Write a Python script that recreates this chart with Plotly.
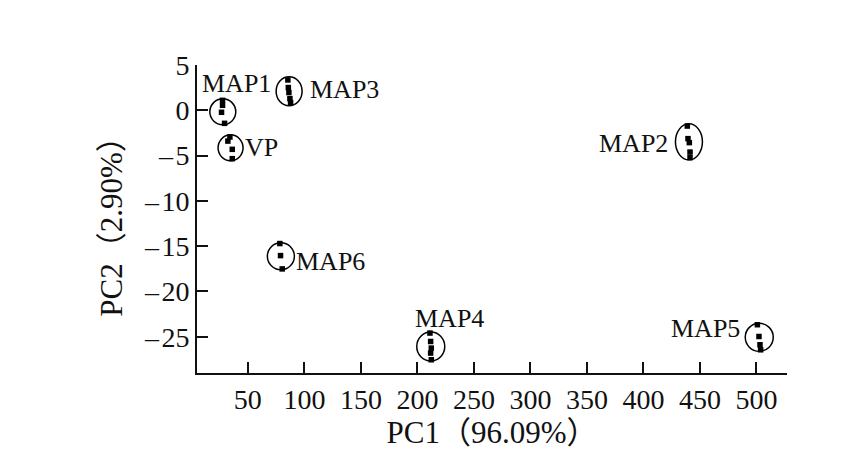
import plotly.graph_objects as go

# ---- data ----
groups = ["MAP1", "MAP3", "VP", "MAP2", "MAP6", "MAP4", "MAP5"]
pc1_points = [
    [27.6, 27.6, 26.7, 29.4],
    [85.4, 85.8, 86.3, 87.2, 87.8],
    [34.1, 32.3, 36.2, 36.2],
    [438.8, 439.4, 440.6, 441.2, 441.2],
    [78.3, 78.9, 80.4],
    [211.1, 211.7, 212.3, 211.7, 212.3],
    [500.8, 502.2, 503.1, 503.7],
]
pc2_points = [
    [1.10, 0.55, -0.22, -1.44],
    [3.35, 2.51, 1.96, 1.29, 0.85],
    [-2.95, -3.40, -4.31, -5.34],
    [-1.74, -3.13, -3.57, -4.61, -5.23],
    [-14.71, -16.04, -17.51],
    [-24.59, -25.52, -26.25, -26.80, -27.54],
    [-23.67, -24.97, -25.88, -26.44],
]
x_tick_vals = [50, 100, 150, 200, 250, 300, 350, 400, 450, 500]
y_tick_vals = [5, 0, -5, -10, -15, -20, -25]
y_tick_text = ["5", "0", "\u2013\u200a5", "\u2013\u200a10", "\u2013\u200a15", "\u2013\u200a20", "\u2013\u200a25"]
x_title = "PC1（96.09%）"
y_title = "PC2（2.90%）"

# ---- styles (pixel) ----
ellipse_r = {"MAP1": (13, 13), "MAP3": (13, 14.5), "VP": (12.5, 13), "MAP2": (13.5, 18),
             "MAP6": (13.5, 13.5), "MAP4": (14, 14.5), "MAP5": (14, 14)}
label_shift = {"MAP1": (14, 28), "MAP3": (55, 2), "VP": (31, 0), "MAP2": (-55, -2),
               "MAP6": (50, -5), "MAP4": (19, 28), "MAP5": (-54, 9)}

FONT = "Liberation Serif, Times New Roman, Noto Sans CJK SC, serif"
INK = "#111"

fig = go.Figure()
shapes = []
annotations = []
for g, xs, ys in zip(groups, pc1_points, pc2_points):
    fig.add_trace(go.Scatter(
        x=xs, y=ys, mode="markers", name=g, showlegend=False,
        marker=dict(symbol="square", size=5.5, color="black"),
    ))
    cx = sum(xs) / len(xs)
    cy = (max(ys) + min(ys)) / 2
    rx, ry = ellipse_r[g]
    shapes.append(dict(
        type="circle", xref="x", yref="y", xsizemode="pixel", ysizemode="pixel",
        xanchor=cx, yanchor=cy, x0=-rx, x1=rx, y0=-ry, y1=ry,
        line=dict(color="black", width=1.5),
    ))
    sx, sy = label_shift[g]
    annotations.append(dict(
        x=cx, y=cy, xref="x", yref="y", text=g, showarrow=False,
        xshift=sx, yshift=sy, font=dict(family=FONT, size=26, color=INK),
    ))

# the page body adds an 8px offset, so margins are shifted by 8px
fig.update_layout(
    width=867, height=460,
    margin=dict(l=189, r=88, t=57, b=95),
    paper_bgcolor="white", plot_bgcolor="white",
    shapes=shapes, annotations=annotations,
    font=dict(family=FONT, size=28, color=INK),
)
fig.update_xaxes(
    range=[5, 527], tickvals=x_tick_vals, ticks="inside", ticklen=11, tickwidth=1.8,
    tickcolor=INK, showline=True, linecolor=INK, linewidth=2, showgrid=False,
    zeroline=False, automargin=False, tickfont=dict(family=FONT, size=28, color=INK),
    title=dict(text=x_title, font=dict(family=FONT, size=31, color=INK), standoff=6),
)
fig.update_yaxes(
    range=[-29, 5], tickvals=y_tick_vals, ticktext=y_tick_text, ticks="inside", ticklen=11,
    tickwidth=1.8, tickcolor=INK, showline=True, linecolor=INK, linewidth=2,
    showgrid=False, zeroline=False, automargin=False,
    tickfont=dict(family=FONT, size=28, color=INK),
    title=dict(text=y_title, font=dict(family=FONT, size=31, color=INK), standoff=12),
)
fig.write_html("out.html")
